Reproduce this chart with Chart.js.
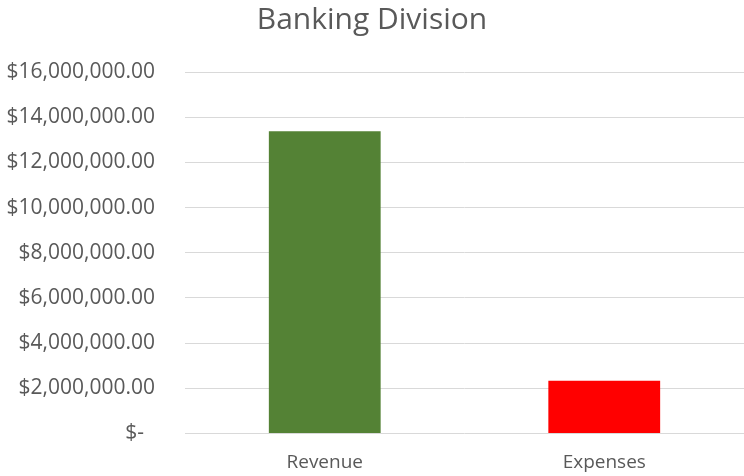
<!DOCTYPE html>
<html>
<head>
<meta charset="utf-8">
<script src="https://cdn.jsdelivr.net/npm/chart.js@4"></script>
<style>
  html, body { margin: 0; padding: 0; background: #fff; }
  #wrap { width: 744px; height: 476px; }
</style>
</head>
<body>
<div id="wrap"><canvas id="grafico"></canvas></div>
<script>
const categorias = ['Revenue', 'Expenses'];
const valores = [13380000, 2330000];
const coresBarras = ['#548235', '#FF0000'];

const FONTE = "'Open Sans', 'Liberation Sans', sans-serif";

function fmtMoeda(v) {
  if (v === 0) return '$-  ';
  return '$' + v.toLocaleString('en-US', { minimumFractionDigits: 2, maximumFractionDigits: 2 });
}

new Chart(document.getElementById('grafico'), {
  type: 'bar',
  data: {
    labels: categorias,
    datasets: [{
      data: valores,
      backgroundColor: coresBarras,
      categoryPercentage: 1,
      barPercentage: 0.4,
    }],
  },
  options: {
    responsive: true,
    maintainAspectRatio: false,
    animation: false,
    layout: { padding: { top: 2, right: 0, bottom: 0, left: 0 } },
    plugins: {
      legend: { display: false },
      tooltip: { enabled: false },
      title: {
        display: true,
        text: 'Banking Division',
        color: '#595959',
        font: { family: FONTE, size: 30, weight: 'normal' },
        padding: { top: 0, bottom: 34 },
      },
    },
    scales: {
      x: {
        afterFit: (s) => { s.height = 42; },
        grid: { display: false, drawTicks: false },
        border: { display: false },
        ticks: { color: '#595959', font: { family: FONTE, size: 19 }, padding: 18 },
      },
      y: {
        min: 0,
        max: 16000000,
        afterFit: (s) => { s.width = 185; },
        grid: { color: '#D9D9D9', lineWidth: 1, drawTicks: false },
        border: { display: false },
        ticks: {
          stepSize: 2000000,
          color: '#595959',
          font: { family: FONTE, size: 21 },
          padding: 30,
          callback: (v) => fmtMoeda(v),
        },
      },
    },
  },
});
</script>
</body>
</html>
